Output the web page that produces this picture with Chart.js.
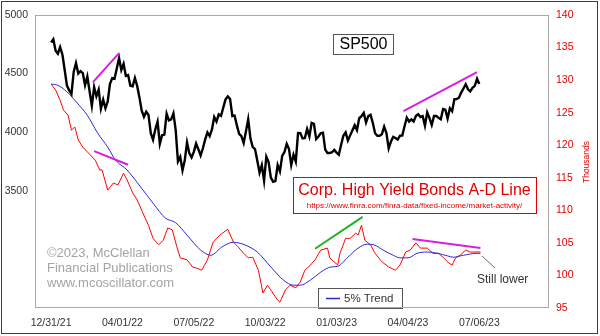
<!DOCTYPE html>
<html>
<head>
<meta charset="utf-8">
<script src="https://cdn.jsdelivr.net/npm/chart.js@4/dist/chart.umd.min.js"></script>
<style>
  html, body { margin: 0; padding: 0; background: #fff; }
  #wrap { width: 600px; height: 336px; }
</style>
</head>
<body>
<div id="wrap"><canvas id="chart" width="600" height="336"></canvas></div>
<script>
// x values are trading-day counts from 12/31/21
const xTickDays = [0, 63, 126, 189, 252, 315, 378];
const xTickLabels = ['12/31/21', '04/01/22', '07/05/22', '10/03/22', '01/03/23', '04/04/23', '07/06/23'];
const leftTicks = [3500, 4000, 4500, 5000];

// SP500 close, one value every 2 trading days
const spxStep = 2;
const spxValues = [4766,4793,4696,4670,4726,4662,4533,4398,4357,4327,
  4516,4590,4501,4521,4504,4401,4475,4349,4226,4385,
  4306,4363,4201,4278,4204,4263,4412,4461,4456,4543,
  4632,4530,4583,4481,4488,4397,4392,4462,4394,4297,
  4184,4132,4175,4147,3991,3935,4024,4089,3900,3974,
  3979,4158,4101,4109,4161,4018,3750,3790,3675,3760,
  3912,3821,3785,3832,3903,3855,3802,3863,3937,3999,
  3967,4024,4130,4091,4152,4140,4210,4280,4305,4284,
  4138,4141,4058,3986,3966,3908,4006,4110,3946,3873,
  3856,3758,3655,3719,3586,3791,3745,3612,3577,3583,
  3720,3666,3797,3831,3901,3856,3720,3807,3749,3993,
  3992,3947,3950,4027,3964,4080,4072,3941,3963,3991,
  3996,3852,3822,3822,3829,3849,3825,3808,3893,3970,
  3999,3929,3973,4017,4060,4018,4119,4136,4164,4082,
  4137,4148,4079,3991,3970,3970,3982,4048,3992,3862,
  3920,3960,3951,3937,3971,3971,4051,4125,4091,4110,
  4092,4138,4154,4130,4138,4056,4169,4120,4061,4138,
  4138,4124,4110,4198,4192,4116,4205,4180,4282,4283,
  4294,4338,4373,4410,4366,4348,4378,4396,4456,4411];

// Corp. high yield bond A-D line (thousands)
const adDays = [0,4,8,11,15,18,21,24,28,33,39,43,45,50,55,59,64,67,72,76,
  81,86,90,95,99,103,107,111,114,120,125,129,133,138,143,149,156,161,165,170,
  174,178,183,187,191,195,200,202,207,211,216,220,224,229,233,238,244,246,253,255,
  260,264,269,271,274,277,282,286,292,298,304,308,313,317,322,326,332,337,342,346,
  351,354,357,361,366,370,375,379];
const adValues = [129.4,128.5,126.9,125.4,124.6,122.3,122.8,120.8,119.7,118.8,117.7,116.2,116.2,113.1,114.2,113.9,115.7,114.7,112.7,111.6,
  109.6,107.7,105.7,104.7,105.4,107.3,107.0,104.4,102.7,102.4,101.3,101.1,100.8,102.4,105.1,106.2,107.1,105.1,104.4,103.4,
  102.7,102.8,100.8,97.3,98.5,97.5,96.2,95.9,97.8,98.5,98.1,99.0,100.8,101.6,102.4,103.9,104.2,102.7,101.6,103.4,
  105.7,105.7,106.5,106.2,107.7,105.4,104.7,103.4,102.1,101.3,100.8,101.6,103.6,103.9,105.0,104.2,104.2,103.4,103.4,102.8,
  101.9,101.6,102.7,103.1,103.9,103.6,103.6,103.6];

// 5% trend of the A-D line
const trendDays = [0,6,14,23,32,41,50,57,67,79,90,101,110,120,132,141,151,161,171,182,
  194,205,214,220,229,238,247,253,262,271,279,285,293,302,308,315,323,332,341,350,
  355,364,376,379];
const trendValues = [129.4,129.2,128.2,126.5,124.6,121.9,119.7,117.7,116.2,113.6,111.1,108.8,108.1,106.2,103.9,103.1,104.4,105.1,104.7,103.6,
  101.3,99.3,98.5,98.5,99.3,100.5,101.3,101.4,102.8,104.2,104.8,104.7,103.9,103.1,102.7,102.7,103.4,103.6,103.4,103.0,
  102.8,103.1,103.4,103.4];

// hand drawn divergence lines
const spxMarkDays = [[37, 60], [311, 376]];
const spxMarkValues = [[4427, 4675], [4179, 4513]];
const adMarkDays = [[38, 68], [319, 379], [233, 275]];
const adMarkValues = [[119.1, 117.0], [105.6, 104.2], [104.1, 109.0]];

const toPoints = (days, vals) => days.map((d, i) => ({ x: d, y: vals[i] }));

const FONT = "'Liberation Sans', Arial, sans-serif";
Chart.defaults.font.family = FONT;

function markDataset(days, vals, axis, color) {
    return {
        data: toPoints(days, vals),
        yAxisID: axis,
        borderColor: color,
        borderWidth: 2,
        pointRadius: 0,
        order: 0
    };
}

const datasets = [
    {
        label: 'SP500',
        data: spxValues.map((v, i) => ({ x: i * spxStep, y: v })),
        yAxisID: 'y',
        borderColor: '#000',
        borderWidth: 2.4,
        pointRadius: 0,
        order: 1
    },
    {
        label: 'A-D Line',
        data: toPoints(adDays, adValues),
        yAxisID: 'y2',
        borderColor: '#ff0000',
        borderWidth: 1,
        pointRadius: 0,
        order: 3
    },
    {
        label: '5% Trend',
        data: toPoints(trendDays, trendValues),
        yAxisID: 'y2',
        borderColor: '#2b2bd6',
        borderWidth: 1,
        pointRadius: 0,
        cubicInterpolationMode: 'monotone',
        order: 2
    },
    markDataset(spxMarkDays[0], spxMarkValues[0], 'y', '#d81ee0'),
    markDataset(spxMarkDays[1], spxMarkValues[1], 'y', '#d81ee0'),
    markDataset(adMarkDays[0], adMarkValues[0], 'y2', '#d81ee0'),
    markDataset(adMarkDays[1], adMarkValues[1], 'y2', '#d81ee0'),
    markDataset(adMarkDays[2], adMarkValues[2], 'y2', '#22b022')
];

// boxes, notes and frames drawn on top of the plot
const decorations = {
    id: 'decorations',
    afterDatasetsDraw(chart) {
        const ctx = chart.ctx;
        ctx.save();

        // SP500 label
        ctx.fillStyle = '#fff';
        ctx.fillRect(333, 34, 60, 20);
        ctx.strokeStyle = '#555';
        ctx.lineWidth = 1;
        ctx.strokeRect(333.5, 34.5, 60, 20);
        ctx.fillStyle = '#000';
        ctx.font = '16px ' + FONT;
        ctx.textAlign = 'center';
        ctx.textBaseline = 'middle';
        ctx.fillText('SP500', 363.5, 45);

        // A-D line title box
        ctx.fillStyle = '#fff';
        ctx.fillRect(293, 177, 243, 36);
        ctx.strokeStyle = '#e00000';
        ctx.strokeRect(293.5, 177.5, 243, 36);
        ctx.fillStyle = '#e00000';
        ctx.font = '16px ' + FONT;
        ctx.fillText('Corp. High Yield Bonds A-D Line', 414.5, 191);
        ctx.font = '8px ' + FONT;
        ctx.fillText('https://www.finra.com/finra-data/fixed-income/market-activity/', 414.5, 206);

        // copyright
        ctx.fillStyle = '#a4a4a4';
        ctx.font = '13px ' + FONT;
        ctx.textAlign = 'left';
        ctx.fillText('\u00a92023, McClellan', 47, 253);
        ctx.fillText('Financial Publications', 47, 268);
        ctx.fillText('www.mcoscillator.com', 47, 283);

        // legend
        ctx.fillStyle = '#fff';
        ctx.fillRect(318, 288, 84, 20);
        ctx.strokeStyle = '#555';
        ctx.strokeRect(318.5, 288.5, 84, 20);
        ctx.strokeStyle = '#2b2bd6';
        ctx.lineWidth = 1.5;
        ctx.beginPath();
        ctx.moveTo(326, 298.5);
        ctx.lineTo(340, 298.5);
        ctx.stroke();
        ctx.fillStyle = '#333';
        ctx.font = '11.5px ' + FONT;
        ctx.fillText('5% Trend', 344, 298.5);

        // note
        ctx.strokeStyle = '#666';
        ctx.lineWidth = 1;
        ctx.beginPath();
        ctx.moveTo(482, 256);
        ctx.lineTo(495, 268);
        ctx.stroke();
        ctx.fillStyle = '#333';
        ctx.font = '12px ' + FONT;
        ctx.fillText('Still lower', 477, 280);

        // right axis title
        ctx.translate(587, 162);
        ctx.rotate(-Math.PI / 2);
        ctx.fillStyle = '#e00000';
        ctx.font = '8.5px ' + FONT;
        ctx.textAlign = 'center';
        ctx.fillText('Thousands', 0, 0);
        ctx.restore();
    },
    afterDraw(chart) {
        const ctx = chart.ctx;
        const a = chart.chartArea;
        ctx.save();
        ctx.strokeStyle = '#a8a8a8';
        ctx.lineWidth = 1;
        ctx.strokeRect(Math.round(a.left) - 0.5, Math.round(a.top) + 0.5,
            Math.round(a.right - a.left), Math.round(a.bottom - a.top) - 1);
        ctx.strokeStyle = '#3c3c3c';
        ctx.strokeRect(1.5, 1.5, 596, 332);
        ctx.restore();
    }
};

new Chart(document.getElementById('chart'), {
    type: 'line',
    data: { datasets: datasets },
    options: {
        responsive: false,
        animation: false,
        layout: { padding: { top: 15, left: 0, right: 0, bottom: 0 } },
        plugins: {
            legend: { display: false },
            tooltip: { enabled: false }
        },
        elements: { line: { tension: 0 } },
        scales: {
            x: {
                type: 'linear',
                min: -13.3,
                max: 439.5,
                grid: { display: false, drawTicks: false },
                border: { display: false },
                ticks: {
                    color: '#333',
                    font: { size: 10.5 },
                    padding: 9,
                    maxRotation: 0,
                    autoSkip: false,
                    callback: (v) => {
                        const i = xTickDays.indexOf(v);
                        return i >= 0 ? xTickLabels[i] : '';
                    }
                },
                afterBuildTicks: (s) => { s.ticks = xTickDays.map(v => ({ value: v })); },
                afterFit: (s) => { s.height = 28; }
            },
            y: {
                position: 'left',
                min: 2500,
                max: 5000,
                grid: { display: false, drawTicks: false },
                border: { display: false },
                ticks: { color: '#333', font: { size: 10.5 }, padding: 8, callback: (v) => String(v) },
                afterBuildTicks: (s) => { s.ticks = leftTicks.map(v => ({ value: v })); },
                afterFit: (s) => { s.width = 36; }
            },
            y2: {
                position: 'right',
                min: 95,
                max: 140,
                grid: { display: false, drawTicks: false },
                border: { display: false },
                ticks: { color: '#e00000', font: { size: 10.5 }, padding: 7, stepSize: 5 },
                afterFit: (s) => { s.width = 51; }
            }
        }
    },
    plugins: [decorations]
});
</script>
</body>
</html>
